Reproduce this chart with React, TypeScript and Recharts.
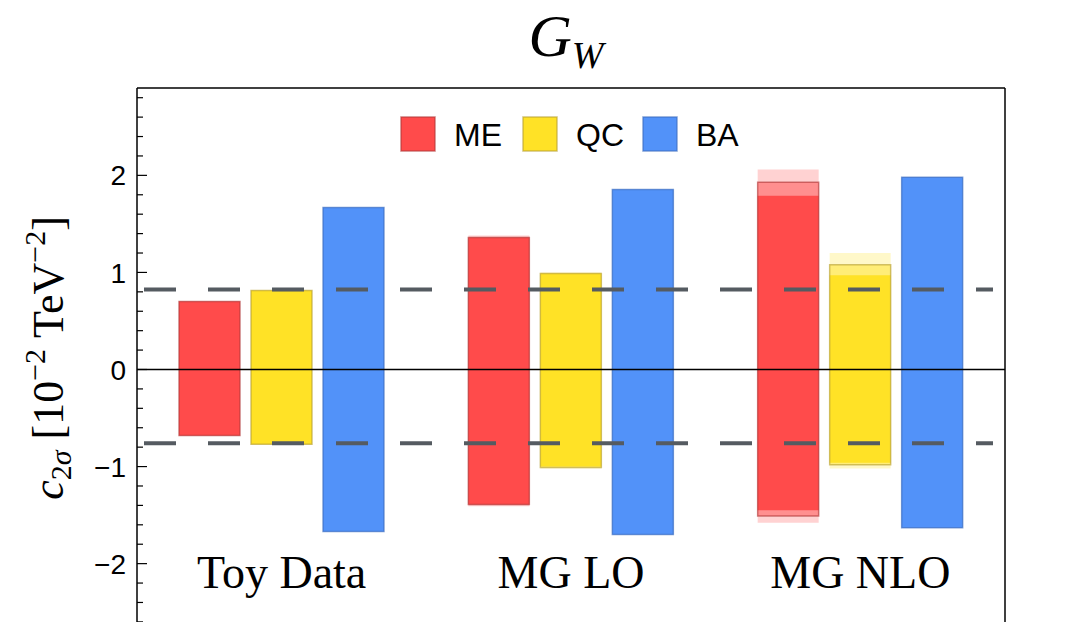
import { BarChart, Bar, XAxis, YAxis, ReferenceLine, ReferenceDot } from "recharts";

const categories = ["Toy Data", "MG LO", "MG NLO"];

// ranges [low, high] in units of 10^-2 TeV^-2
const meInner = [[-0.68, 0.7], [-1.39, 1.36], [-1.45, 1.79]];
const meMid = [[-0.68, 0.7], [-1.39, 1.36], [-1.51, 1.93]];
const meOuter = [[-0.68, 0.7], [-1.41, 1.38], [-1.58, 2.06]];

const qcInner = [[-0.77, 0.815], [-1.0, 0.99], [-0.96, 0.97]];
const qcMid = [[-0.77, 0.815], [-1.01, 0.99], [-0.98, 1.08]];
const qcOuter = [[-0.77, 0.815], [-1.02, 1.0], [-1.02, 1.2]];

const baRange = [[-1.67, 1.67], [-1.7, 1.855], [-1.63, 1.98]];

const bounds = [0.823, -0.76];

const yTicks = [
  -2.8, -2.6, -2.4, -2.2, -2, -1.8, -1.6, -1.4, -1.2, -1, -0.8, -0.6, -0.4, -0.2, 0,
  0.2, 0.4, 0.6, 0.8, 1, 1.2, 1.4, 1.6, 1.8, 2, 2.2, 2.4, 2.6, 2.8,
];
const yLabels = [-2, -1, 0, 1, 2];

const series = [
  { name: "ME", fill: "#FF4B4B", stroke: "#B23A3A" },
  { name: "QC", fill: "#FFE226", stroke: "#B9A235" },
  { name: "BA", fill: "#5292F9", stroke: "#3E6DBF" },
];

const data = categories.map((name, i) => ({
  name,
  meInner: meInner[i],
  meMid: meMid[i],
  meOuter: meOuter[i],
  qcInner: qcInner[i],
  qcMid: qcMid[i],
  qcOuter: qcOuter[i],
  ba: baRange[i],
}));

const serif = "'Liberation Serif', 'Times New Roman', serif";
const sans = "'Liberation Sans', Arial, sans-serif";

const dashes = "0 7 " + Array(13).fill("32 32").join(" ") + " 17 2000";

const YTick = (props: any) => {
  const { x, y, payload, side } = props;
  const v = payload.value;
  const showLabel = yLabels.some((l) => Math.abs(l - v) < 1e-6);
  const len = showLabel ? 10 : 6;
  const dir = side === "left" ? 1 : -1;
  const label = v < 0 ? "\u2212" + Math.abs(Math.round(v)) : String(Math.round(v));
  return (
    <g>
      <line x1={x} x2={x + dir * len} y1={y} y2={y} stroke="#000" strokeWidth={1.2} />
      {showLabel && (
        <text
          x={side === "left" ? x - 11 : x + 44}
          y={y}
          dy="0.36em"
          textAnchor="end"
          fontFamily={sans}
          fontSize={28}
          fill="#000"
        >
          {label}
        </text>
      )}
    </g>
  );
};

const layers = ["outer", "inner", "mid"];

export default function App() {
  return (
    <div
      style={{
        position: "absolute",
        left: 0,
        top: 0,
        width: 1072,
        height: 622,
        overflow: "hidden",
        background: "#fff",
      }}
    >
      <BarChart
        width={1072}
        height={651}
        data={data}
        margin={{ top: 88, right: 0, bottom: 0, left: 0 }}
        barGap={11}
        barSize={61}
      >
        {layers.map((l) => (
          <XAxis key={l} xAxisId={l} dataKey="name" hide />
        ))}
        <YAxis
          yAxisId="left"
          orientation="left"
          width={137}
          domain={[-2.9, 2.9]}
          ticks={yTicks}
          interval={0}
          tickSize={0}
          tickMargin={0}
          tickLine={false}
          axisLine={{ stroke: "#000", strokeWidth: 1.5 }}
          tick={<YTick side="left" />}
        />
        <YAxis
          yAxisId="right"
          orientation="right"
          width={67}
          domain={[-2.9, 2.9]}
          ticks={yTicks}
          interval={0}
          tickSize={0}
          tickMargin={0}
          tickLine={false}
          axisLine={{ stroke: "#000", strokeWidth: 1.5 }}
          tick={<YTick side="right" />}
        />

        {/* outer (faint) layer */}
        <Bar xAxisId="outer" yAxisId="left" dataKey="meOuter" fill={series[0].fill} fillOpacity={0.25} isAnimationActive={false} />
        <Bar xAxisId="outer" yAxisId="left" dataKey="qcOuter" fill={series[1].fill} fillOpacity={0.25} isAnimationActive={false} />
        <Bar xAxisId="outer" yAxisId="left" dataKey="ba" fill={series[2].fill} fillOpacity={0.25} isAnimationActive={false} />

        {/* inner solid layer */}
        <Bar xAxisId="inner" yAxisId="left" dataKey="meInner" fill={series[0].fill} isAnimationActive={false} />
        <Bar xAxisId="inner" yAxisId="left" dataKey="qcInner" fill={series[1].fill} isAnimationActive={false} />
        <Bar xAxisId="inner" yAxisId="left" dataKey="ba" fill={series[2].fill} isAnimationActive={false} />

        {/* middle layer with outline */}
        <Bar xAxisId="mid" yAxisId="left" dataKey="meMid" fill={series[0].fill} fillOpacity={0.5} stroke={series[0].stroke} strokeOpacity={0.65} strokeWidth={1.5} isAnimationActive={false} />
        <Bar xAxisId="mid" yAxisId="left" dataKey="qcMid" fill={series[1].fill} fillOpacity={0.5} stroke={series[1].stroke} strokeOpacity={0.65} strokeWidth={1.5} isAnimationActive={false} />
        <Bar xAxisId="mid" yAxisId="left" dataKey="ba" fill={series[2].fill} fillOpacity={0.5} stroke={series[2].stroke} strokeOpacity={0.65} strokeWidth={1.5} isAnimationActive={false} />

        <ReferenceLine xAxisId="inner" yAxisId="left" y={2.9} stroke="#000" strokeWidth={1.5} />
        <ReferenceLine xAxisId="inner" yAxisId="left" y={0} stroke="#000" strokeWidth={1.5} />
        {bounds.map((b) => (
          <ReferenceLine
            key={b}
            xAxisId="inner"
            yAxisId="left"
            y={b}
            stroke="#555B61"
            strokeWidth={4}
            strokeDasharray={dashes}
          />
        ))}
        {categories.map((c) => (
          <ReferenceDot
            key={c}
            xAxisId="inner"
            yAxisId="left"
            x={c}
            y={-2.08}
            r={1}
            fill="none"
            stroke="none"
            label={{ value: c, position: "center", fill: "#000", fontSize: 46, fontFamily: serif }}
          />
        ))}
      </BarChart>

      <svg
        width={1072}
        height={622}
        style={{ position: "absolute", left: 0, top: 0, pointerEvents: "none" }}
      >
        <text x={566} y={56} textAnchor="middle" fontFamily={serif} fontSize={60} fontStyle="italic">
          G
          <tspan fontSize={38} dy={12}>
            W
          </tspan>
        </text>

        <text
          x={63}
          y={358}
          transform="rotate(-90, 63, 358)"
          textAnchor="middle"
          fontFamily={serif}
          fontSize={44}
        >
          <tspan fontStyle="italic">c</tspan>
          <tspan fontSize={30} dy={8}>2</tspan>
          <tspan fontSize={30} fontStyle="italic">σ</tspan>
          <tspan dy={-8}> [10</tspan>
          <tspan fontSize={30} dy={-18}>−2</tspan>
          <tspan dy={18}> TeV</tspan>
          <tspan fontSize={30} dy={-18}>−2</tspan>
          <tspan dy={18}>]</tspan>
        </text>

        {series.map((s, i) => {
          const rx = [401, 523, 643][i];
          return (
            <g key={s.name}>
              <rect x={rx} y={117} width={34} height={34} fill={s.fill} stroke={s.stroke} strokeOpacity={0.65} strokeWidth={1.5} />
              <text x={rx + 53} y={146} fontFamily={sans} fontSize={32} fill="#000">
                {s.name}
              </text>
            </g>
          );
        })}
      </svg>
    </div>
  );
}
